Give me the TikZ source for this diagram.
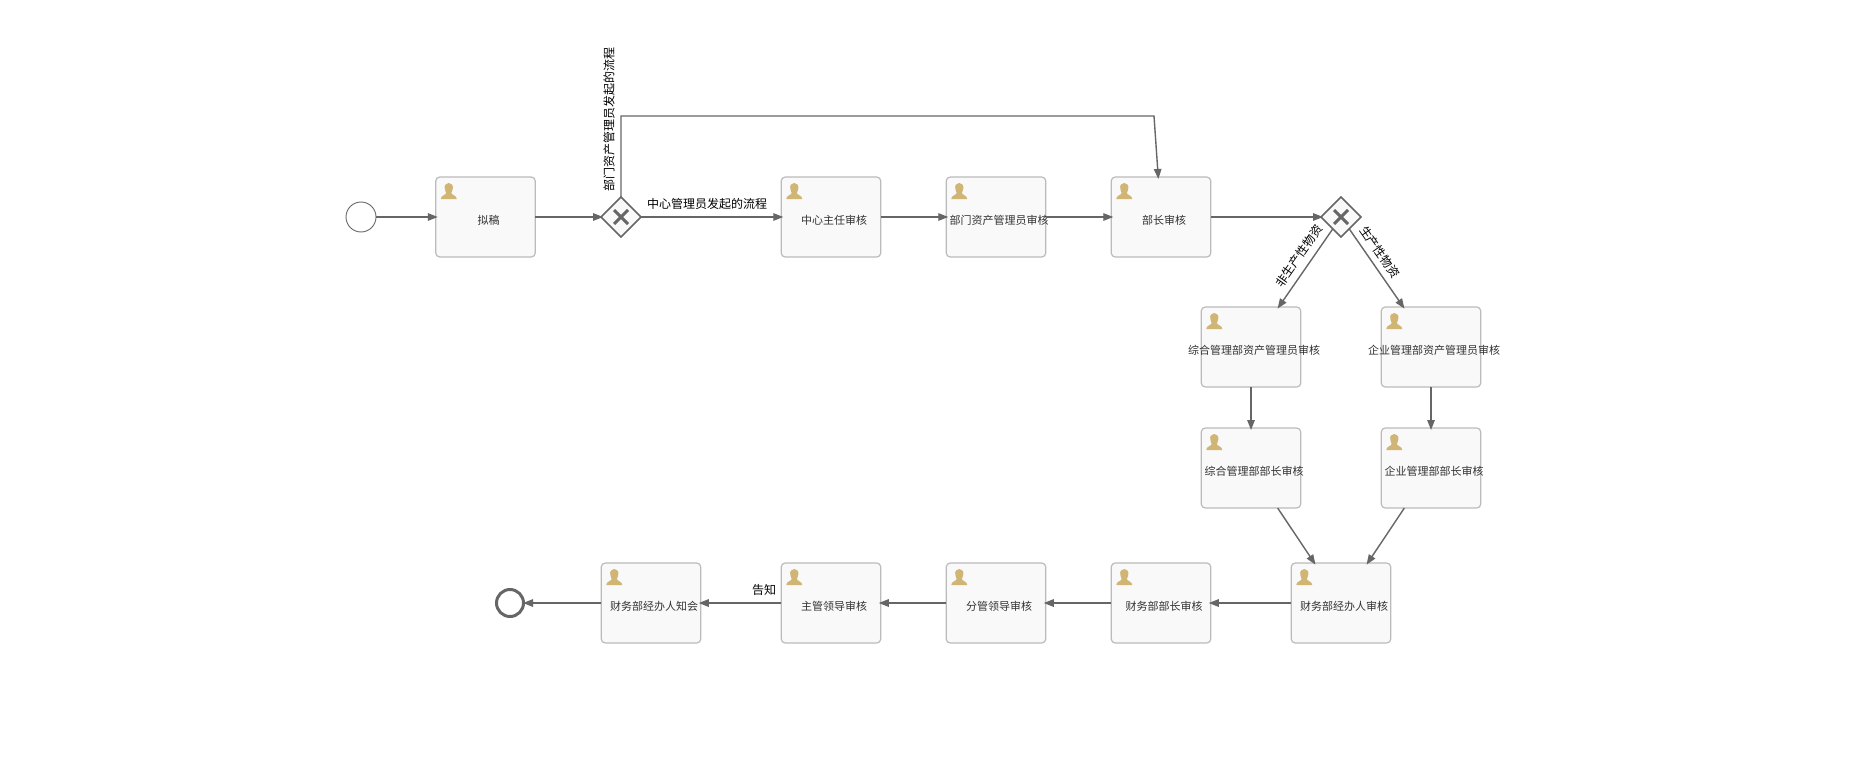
\documentclass[tikz,border=0pt]{standalone}
\usepackage{fontspec}
\setmainfont{Noto Sans CJK SC}
\usetikzlibrary{arrows.meta,shapes.geometric,positioning,calc}
\definecolor{edgegray}{HTML}{666666}
\definecolor{boxline}{HTML}{BBBBBB}
\definecolor{boxfill}{HTML}{F9F9F9}
\definecolor{usergold}{HTML}{D1B574}
\definecolor{boxtext}{HTML}{333333}
\tikzset{
  taskbox/.style={draw=boxline,fill=boxfill,line width=1.2pt,rounded corners=4pt,
    minimum width=99.5pt,minimum height=80pt,inner sep=0pt,outer sep=0pt},
  tasktext/.style={font=\fontsize{11}{13}\selectfont,text=boxtext,inner sep=0pt},
  gateway/.style={diamond,draw=edgegray,fill=boxfill,line width=1.6pt,aspect=1,
    minimum width=40pt,minimum height=40pt,inner sep=0pt,outer sep=0pt},
  flow/.style={draw=edgegray,line width=1.4pt,shorten >=-2pt,-{Triangle[length=10pt,width=7.5pt]}},
  flowlabel/.style={font=\fontsize{12}{14}\selectfont,text=black,inner sep=0pt},
  startev/.style={circle,draw=edgegray,fill=white,line width=0.9pt,minimum size=30pt,inner sep=0pt,outer sep=0pt},
  endev/.style={circle,draw=edgegray,fill=white,line width=3pt,minimum size=27pt,inner sep=0pt,outer sep=1.5pt},
}
\newcommand{\usericon}[1]{%
  \begin{scope}[shift={(#1.north west)}]
  \fill[usergold] (13,6)
    .. controls (15.8,6) and (17.6,8.4) .. (17,11.5)
    .. controls (16.7,13.5) and (16,15) .. (15.6,16)
    .. controls (15.6,18) and (21,18.3) .. (21,22)
    -- (5,22)
    .. controls (5,18.3) and (10.4,18) .. (10.4,16)
    .. controls (10,15) and (9.3,13.5) .. (9,11.5)
    .. controls (8.4,8.4) and (10.2,6) .. (13,6) -- cycle;
  \end{scope}}
\newcommand{\gatewaycross}[1]{%
  \draw[edgegray,line width=3pt] ($(#1)+(-7,-7)$) -- ($(#1)+(7,7)$);
  \draw[edgegray,line width=3pt] ($(#1)+(-7,7)$) -- ($(#1)+(7,-7)$);}
\newcommand{\task}[4]{%
  \node[taskbox] (#1) at (#2,#3) {};
  \node[tasktext] (#1t) at (#2+3,#3+3) {#4};
  \usericon{#1}}
\begin{document}
\begin{tikzpicture}[x=1pt,y=-1pt]
\useasboundingbox[fill=white] (0,0) rectangle (1872,765);

\node[startev] (start) at (361,217) {};
\node[gateway] (gwa) at (621,217) {};
\node[gateway] (gwb) at (1341,217) {};
\node[endev] (finish) at (510,603) {};
\coordinate (bend) at (1154,116);

\task{draft}{485.5}{217}{拟稿}
\task{center}{831}{217}{中心主任审核}
\task{deptasset}{996}{217}{部门资产管理员审核}
\task{minister}{1161}{217}{部长审核}
\task{genasset}{1251}{347}{综合管理部资产管理员审核}
\task{entasset}{1431}{347}{企业管理部资产管理员审核}
\task{genhead}{1251}{468}{综合管理部部长审核}
\task{enthead}{1431}{468}{企业管理部部长审核}
\task{finclerk}{1341}{603}{财务部经办人审核}
\task{finhead}{1161}{603}{财务部部长审核}
\task{vicelead}{996}{603}{分管领导审核}
\task{mainlead}{831}{603}{主管领导审核}
\task{notify}{651}{603}{财务部经办人知会}

\draw[flow] (start) -- (draft);
\draw[flow] (draft) -- (gwa);
\draw[flow] (gwa) -- (center);
\draw[flow] (center) -- (deptasset);
\draw[flow] (deptasset) -- (minister);
\draw[flow] (minister) -- (gwb);
\draw[flow] (gwa.north) |- (bend) -- (minister);
\draw[flow] (gwb) -- (genasset);
\draw[flow] (gwb) -- (entasset);
\draw[flow] (genasset) -- (genhead);
\draw[flow] (entasset) -- (enthead);
\draw[flow] (genhead) -- (finclerk);
\draw[flow] (enthead) -- (finclerk);
\draw[flow] (finclerk) -- (finhead);
\draw[flow] (finhead) -- (vicelead);
\draw[flow] (vicelead) -- (mainlead);
\draw[flow] (mainlead) -- (notify);
\draw[flow] (notify) -- (finish);

\gatewaycross{gwa}
\gatewaycross{gwb}

\node[flowlabel,rotate=90] (lblDept) at (609,120) {部门资产管理员发起的流程};
\node[flowlabel] (lblCenter) at (707,204) {中心管理员发起的流程};
\node[flowlabel,rotate=55] (lblNon) at (1299,256) {非生产性物资};
\node[flowlabel,rotate=-55] (lblProd) at (1380,252) {生产性物资};
\node[flowlabel] (lblTell) at (764,590) {告知};
\end{tikzpicture}
\end{document}
